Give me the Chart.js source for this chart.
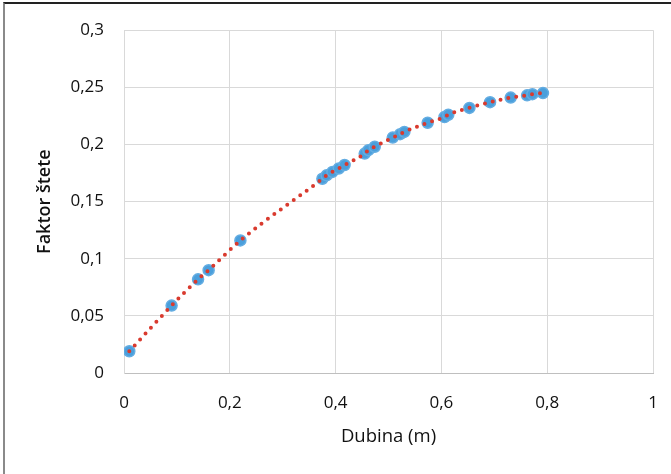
<!DOCTYPE html>
<html>
<head>
<meta charset="utf-8">
<script src="https://cdn.jsdelivr.net/npm/chart.js@4"></script>
<style>
  body { margin: 0; background: #fff; }
  #wrap { position: relative; width: 671px; height: 474px; }
  #frame { position: absolute; left: 3px; top: 2px; right: 0; bottom: 0;
           border-top: 2px solid #222; border-left: 2px solid #8a8a8a; pointer-events: none; }
</style>
</head>
<body>
<div id="wrap">
  <canvas id="myChart" width="671" height="474"></canvas>
  <div id="frame"></div>
</div>
<script>
// depth (m) and damage factor
const depth = [0.01, 0.09, 0.14, 0.16, 0.22, 0.375, 0.383, 0.394, 0.406, 0.417,
               0.455, 0.462, 0.474, 0.508, 0.522, 0.530, 0.574, 0.606, 0.613,
               0.653, 0.692, 0.731, 0.762, 0.772, 0.792];
const factor = [0.019, 0.059, 0.082, 0.090, 0.116, 0.170, 0.173, 0.176, 0.179, 0.182,
                0.192, 0.195, 0.198, 0.206, 0.209, 0.211, 0.219, 0.224, 0.226,
                0.232, 0.237, 0.241, 0.243, 0.244, 0.245];
const xTicks = [0, 0.2, 0.4, 0.6, 0.8, 1];
const yTicks = [0, 0.05, 0.1, 0.15, 0.2, 0.25, 0.3];

const points = depth.map((d, i) => ({ x: d, y: factor[i] }));
const comma = v => String(v).replace('.', ',');
const fontFam = "'Open Sans', 'DejaVu Sans', sans-serif";

const ctx = document.getElementById('myChart').getContext('2d');
const myChart = new Chart(ctx, {
    type: 'scatter',
    data: {
        datasets: [{
            label: 'trend',
            data: points,
            showLine: true,
            borderColor: '#d93a2e',
            borderWidth: 4,
            borderDash: [0, 8],
            borderCapStyle: 'round',
            cubicInterpolationMode: 'monotone',
            pointRadius: 0,
            fill: false
        }, {
            label: 'Faktor štete',
            data: points,
            backgroundColor: '#4a9fdc',
            borderColor: '#64ade2',
            borderWidth: 1.5,
            pointRadius: 5.5
        }]
    },
    options: {
        responsive: false,
        animation: false,
        layout: { padding: { left: 20, right: 18, top: 29, bottom: 26 } },
        plugins: { legend: { display: false }, tooltip: { enabled: false } },
        scales: {
            x: {
                type: 'linear',
                min: 0, max: 1,
                afterBuildTicks: s => { s.ticks = xTicks.map(v => ({ value: v })); },
                afterFit: s => { s.height = 75; s.paddingLeft = 0; s.paddingRight = 0; },
                grid: { color: '#d9d9d9', drawTicks: false },
                border: { color: '#bfbfbf' },
                ticks: { padding: 20, color: '#111', font: { family: fontFam, size: 17 }, callback: v => comma(v) },
                title: { display: true, text: 'Dubina (m)', color: '#111',
                         font: { family: fontFam, size: 18.5 }, padding: { top: 4, bottom: 0 } }
            },
            y: {
                type: 'linear',
                min: 0, max: 0.3,
                afterBuildTicks: s => { s.ticks = yTicks.map(v => ({ value: v })); },
                afterFit: s => { s.width = 104; },
                grid: { color: '#d9d9d9', drawTicks: false },
                border: { color: '#d9d9d9' },
                ticks: { padding: 20, color: '#111', font: { family: fontFam, size: 17 }, callback: v => comma(v) },
                title: { display: true, text: 'Faktor štete', color: '#111',
                         font: { family: fontFam, size: 18, weight: '600' }, padding: { top: 14, bottom: 0 } }
            }
        }
    }
});
</script>
</body>
</html>
